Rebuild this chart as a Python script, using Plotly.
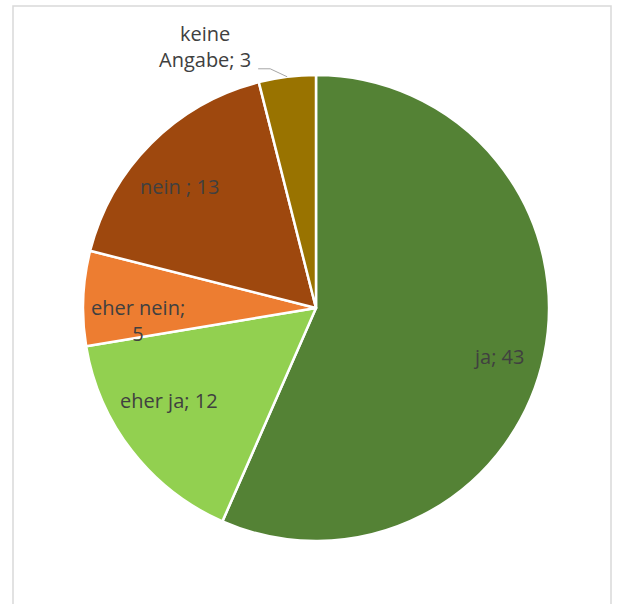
import math
import plotly.graph_objects as go

labels = ["ja", "eher ja", "eher nein", "nein ", "keine Angabe"]
values = [43, 12, 5, 13, 3]
label_text = ["ja; 43", "eher ja; 12", "eher nein;<br>5", "nein ; 13", "keine<br>Angabe; 3"]
colors = ["#548235", "#92D050", "#ED7D31", "#9E480E", "#997300"]

# manual label nudges in pixels (layout styling, like hand-placed Excel labels)
nudge = {1: (0, -32), 2: (8, 10), 3: (-5, 0)}

W, H = 621, 604
cx, cy, R = 316, 308, 233

fig = go.Figure(go.Pie(
    labels=labels, values=values, sort=False, direction="clockwise", rotation=0,
    marker=dict(colors=colors, line=dict(color="white", width=2.5)),
    textinfo="none", hoverinfo="label+value", showlegend=False,
    domain=dict(x=[(cx - R) / W, (cx + R) / W], y=[1 - (cy + R) / H, 1 - (cy - R) / H]),
))

total = sum(values)
cum = 0
font = dict(family="Open Sans, sans-serif", size=20, color="#404040")
for i, v in enumerate(values):
    mid = (cum + v / 2) / total * 2 * math.pi
    cum += v
    dx, dy = math.sin(mid), -math.cos(mid)
    if i == len(values) - 1:
        px, py = cx + R * dx, cy + R * dy
        # leader line: diagonal from slice edge, then short horizontal run to the label
        ex, ey = px - 17, py - 8
        sx, sy = ex - 12, ey
        path = f"M {px/W},{1-py/H} L {ex/W},{1-ey/H} L {sx/W},{1-sy/H}"
        fig.add_shape(type="path", xref="paper", yref="paper", path=path,
                      line=dict(color="#a6a6a6", width=1))
        fig.add_annotation(x=(px - 82) / W, y=1 - (py - 30) / H, xref="paper", yref="paper",
                           xanchor="center", yanchor="middle",
                           text=label_text[i], showarrow=False, font=font, align="center")
    else:
        r = 0.8 * R
        nx, ny = nudge.get(i, (0, 0))
        px, py = cx + r * dx + nx, cy + r * dy + 10 + ny
        fig.add_annotation(x=px / W, y=1 - py / H, xref="paper", yref="paper",
                           xanchor="center", yanchor="middle",
                           text=label_text[i], showarrow=False, font=font, align="center")

fig.add_shape(type="rect", xref="paper", yref="paper",
              x0=13 / W, x1=611 / W, y0=-0.05, y1=1 - 6 / H,
              line=dict(color="#d9d9d9", width=1.5), fillcolor="rgba(0,0,0,0)")

fig.update_layout(width=W, height=H, margin=dict(l=0, r=0, t=0, b=0),
                  paper_bgcolor="white", plot_bgcolor="white")
fig.write_html("out.html", config={"displayModeBar": False},
               post_script="document.body.style.margin='0';document.body.style.overflow='hidden';")
